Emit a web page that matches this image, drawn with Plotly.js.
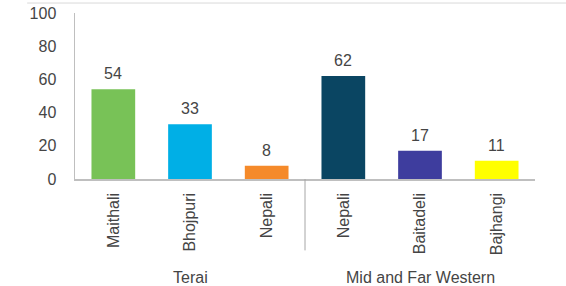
<!DOCTYPE html>
<html><head><meta charset="utf-8">
<script src="https://cdn.plot.ly/plotly-3.0.1.min.js"></script>
<style>html,body{margin:0;padding:0;background:#fff}#chart{width:566px;height:286px}</style>
</head><body><div id="chart"></div>
<script>
const categories = ["Maithali","Bhojpuri","Nepali","Nepali","Baitadeli","Bajhangi"];
const groups = ["Terai","Terai","Terai","Mid and Far Western","Mid and Far Western","Mid and Far Western"];
const values = [54,33,8,62,17,11];
const colors = ["#78C257","#00AFE6","#F58A2A","#0A4562","#3E3D9E","#FFFF00"];
const yTicks = [0,20,40,60,80,100];

const idx = categories.map((_,i)=>i);
const font = "Liberation Sans, Arial, sans-serif";
const txtColor = "#454545";

const annotations = values.map((v,i)=>({
  x:i, y:v, xref:'x', yref:'y', text:String(v), showarrow:false,
  yanchor:'bottom', yshift:5, font:{family:font,size:16,color:txtColor}
}));
const groupNames = [...new Set(groups)];
groupNames.forEach(g=>{
  const ii = idx.filter(i=>groups[i]===g);
  const cx = (Math.min(...ii)+Math.max(...ii))/2;
  annotations.push({x:cx, xref:'x', y:-0.595, yref:'paper', text:g, showarrow:false,
    yanchor:'middle', font:{family:font,size:16,color:txtColor}});
});
const shapes = [];
for (let i=1;i<idx.length;i++){
  if (groups[i]!==groups[i-1]) shapes.push({type:'line', xref:'x', yref:'paper', x0:i-0.5, x1:i-0.5, y0:0, y1:-0.43, line:{color:'#A6A6A6',width:1}});
}
shapes.push({type:'line', xref:'paper', yref:'paper', x0:-0.104, x1:1.07, y0:1.06, y1:1.06, line:{color:'#D9D9D9',width:1}});

Plotly.newPlot('chart',[{
  type:'bar', x:idx, y:values, marker:{color:colors, line:{width:0}}, hoverinfo:'none'
}],{
  width:566, height:286,
  margin:{l:75, r:31, t:13, b:107},
  paper_bgcolor:'#fff', plot_bgcolor:'#fff',
  bargap:0.43, showlegend:false,
  xaxis:{tickmode:'array', tickvals:idx, ticktext:categories, tickangle:-90,
    range:[-0.5,5.5], showline:true, linecolor:'#BFBFBF', linewidth:1.5, ticks:'',
    showgrid:false, zeroline:false, ticklabelstandoff:6,
    tickfont:{family:font,size:16,color:txtColor}},
  yaxis:{range:[0,100], tickmode:'array', tickvals:yTicks, showline:true, linecolor:'#BFBFBF', linewidth:1.5,
    ticks:'', showgrid:false, zeroline:false, ticklabelstandoff:14,
    tickfont:{family:font,size:16,color:txtColor}},
  annotations, shapes
},{staticPlot:true});
</script></body></html>
